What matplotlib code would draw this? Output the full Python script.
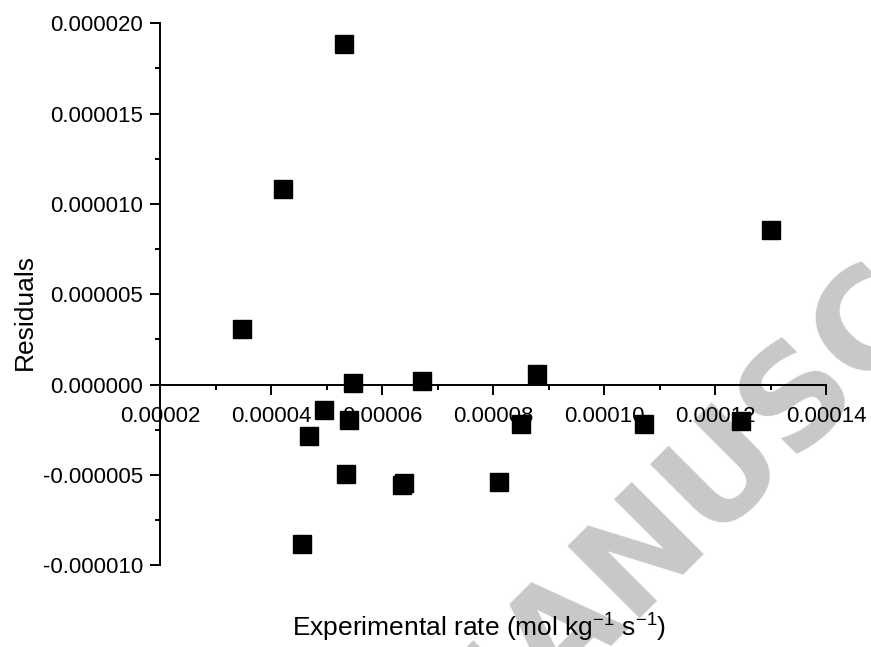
import matplotlib
matplotlib.use('Agg')
import matplotlib.pyplot as plt
from matplotlib.ticker import FixedLocator, MultipleLocator

plt.rcParams['font.family'] = ['Liberation Sans', 'DejaVu Sans']
plt.rcParams['mathtext.fontset'] = 'custom'
plt.rcParams['mathtext.rm'] = 'Liberation Sans'
plt.rcParams['mathtext.it'] = 'Liberation Sans:italic'

# experimental rate (mol kg-1 s-1) and residuals
rate = [5.318e-5, 4.213e-5, 1.3006e-4, 3.479e-5, 5.486e-5, 6.725e-5,
        8.799e-5, 4.958e-5, 5.403e-5, 4.687e-5, 8.505e-5, 1.0716e-4,
        1.2473e-4, 5.349e-5, 6.355e-5, 6.40e-5, 8.114e-5, 4.561e-5]
residuals = [1.888e-5, 1.085e-5, 8.56e-6, 3.10e-6, 1.1e-7, 1.8e-7,
             6.1e-7, -1.38e-6, -1.94e-6, -2.85e-6, -2.19e-6, -2.20e-6,
             -2.03e-6, -4.97e-6, -5.58e-6, -5.47e-6, -5.39e-6, -8.84e-6]

xticks = [0.00002, 0.00004, 0.00006, 0.00008, 0.00010, 0.00012, 0.00014]
xticklabels = ['0.00002', '0.00004', '0.00006', '0.00008', '0.00010', '0.00012', '0.00014']
yticks = [-0.000010, -0.000005, 0.0, 0.000005, 0.000010, 0.000015, 0.000020]
yticklabels = ['-0.000010', '-0.000005', '0.000000', '0.000005', '0.000010', '0.000015', '0.000020']

W, H = 871, 647
fig = plt.figure(figsize=(W / 100, H / 100), dpi=100)
ax = fig.add_axes([160 / W, 1 - 565.3 / H, 666 / W, 542 / H])
ax.patch.set_alpha(0)

ax.plot(rate, residuals, linestyle='none', marker='s', markersize=13,
        color='black', zorder=5)

ax.set_xlim(0.00002, 0.00014)
ax.set_ylim(-0.00001, 0.00002)

ax.spines['top'].set_visible(False)
ax.spines['right'].set_visible(False)
ax.spines['bottom'].set_position(('data', 0))
for s in ['left', 'bottom']:
    ax.spines[s].set_linewidth(1.4)

ax.xaxis.set_major_locator(FixedLocator(xticks))
ax.set_xticklabels(xticklabels)
ax.xaxis.set_minor_locator(MultipleLocator(0.00001))
ax.yaxis.set_major_locator(FixedLocator(yticks))
ax.set_yticklabels(yticklabels)
ax.yaxis.set_minor_locator(MultipleLocator(0.0000025))

ax.tick_params(axis='both', which='major', direction='out', length=7.2,
               width=1.4, labelsize=16)
ax.tick_params(axis='both', which='minor', direction='out', length=3.6, width=1.4)
ax.tick_params(axis='x', which='major', pad=8.5)
ax.tick_params(axis='y', which='major', pad=5)

fig.text(479 / W, 1 - 637 / H, 'Experimental rate (mol kg$^{\\mathregular{-1}}$ s$^{\\mathregular{-1}}$)',
         ha='center', va='baseline', fontsize=19)
fig.text(25 / W, 1 - 312 / H, 'Residuals', rotation=90, ha='center', va='center', fontsize=19)

# faint watermark
ax.text(491 / W, 1 - 713 / H, 'ACCEPTED MANUSCRIPT', transform=fig.transFigure,
        rotation=45, rotation_mode='anchor', ha='center', va='center',
        fontsize=100, fontweight='bold', family='DejaVu Sans', color='#c8c8c8',
        zorder=0, clip_on=False)

fig.savefig('out.png', dpi=100)
